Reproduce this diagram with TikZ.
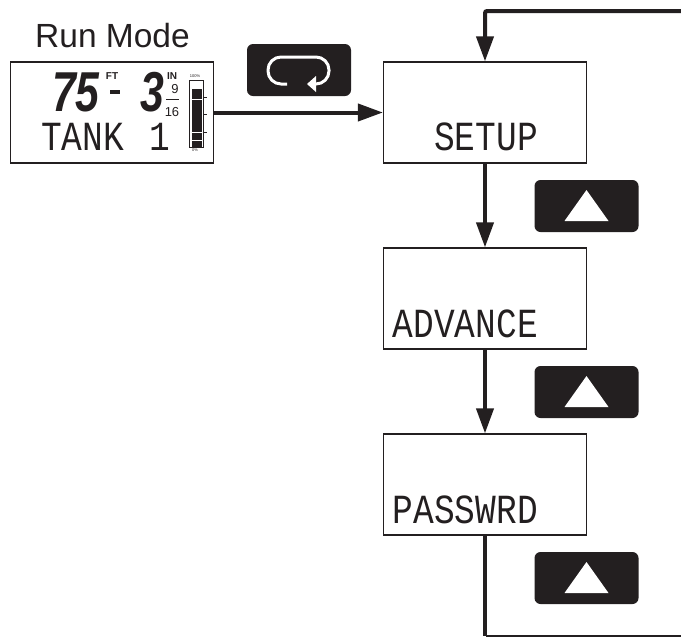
\documentclass[tikz,border=0pt]{standalone}
\usepackage{fontspec}
\usepackage{graphicx}
\usetikzlibrary{arrows.meta}
\setmainfont{Liberation Sans}
\newfontfamily\lcdfont{Liberation Mono}
\newcommand{\lcdtext}[1]{\scalebox{1}[1.2]{\fontsize{34.5}{36}\lcdfont #1}}
\newcommand{\bigdigit}[1]{\scalebox{.95}[1.25]{\fontsize{45}{48}\selectfont\bfseries\itshape #1}}
\definecolor{keyblack}{HTML}{231F20}
\begin{document}
\begin{tikzpicture}[x=1pt,y=-1pt,
            display/.style = {draw=keyblack,
                line width = 1.2pt,
                minimum width = 203pt,
                minimum height = 101pt,
                inner sep = 0pt,
                },
            key/.style = {fill=keyblack,
                rounded corners = 6pt,
                minimum width = 104pt,
                minimum height = 52pt,
                inner sep = 0pt,
                },
            lcd/.style = {text=keyblack,inner sep = 0pt},
            flow/.style = {draw=keyblack,
                line width = 4pt,
                -{Triangle[length=25pt,width=17pt]},
                },
            tiny/.style = {text=keyblack,inner sep = 0pt,font=\fontsize{4}{4}\selectfont},
            ]
        \useasboundingbox (0,0) rectangle (681,638);

        % Title
        \node[lcd,font=\fontsize{33.5}{36}\selectfont] (title) at (112.5,36) {Run Mode};

        % Displays
        \node[display] (run) at (112,112.5) {};
        \node[display] (setup) at (485,112.5) {};
        \node[display] (advance) at (485,298.5) {};
        \node[display] (passwrd) at (485,484.5) {};

        % Display texts
        \node[lcd,anchor=east] (setuptext) at (538,137) {\lcdtext{SETUP}};
        \node[lcd,anchor=east] (advancetext) at (538,323.5) {\lcdtext{ADVANCE}};
        \node[lcd,anchor=east] (passwrdtext) at (538,509.5) {\lcdtext{PASSWRD}};

        % Run mode readout
        \node[lcd] (feet) at (76,92.5) {\bigdigit{75}};
        \node[lcd] (inches) at (152,92.5) {\bigdigit{3}};
        \node[lcd] (dash) at (115,92) {\rule{10pt}{3.5pt}};
        \node[lcd,font=\fontsize{10}{10}\selectfont\bfseries] (ft) at (112,76) {FT};
        \node[lcd,font=\fontsize{10}{10}\selectfont\bfseries] (in) at (172,76) {IN};
        \node[lcd,font=\fontsize{13}{13}\selectfont] (numer) at (175,89) {9};
        \node[lcd,font=\fontsize{13}{13}\selectfont] (denom) at (172,112) {16};
        \draw[keyblack,line width=1pt] (166,99.5) -- (178.5,99.5);
        \node[lcd,anchor=west] (tank) at (41,137) {\lcdtext{TANK \hspace{5pt}1}};

        % Bar graph
        \node[draw=keyblack,line width=.8pt,minimum width=14pt,minimum height=67pt,inner sep=0pt] (bar) at (196,113.5) {};
        \fill[keyblack] (191.5,89) rectangle (202,147);
        \foreach \y in {99,132,140}
            \draw[white,line width=.7pt] (191.5,\y) -- (202,\y);
        \foreach \y in {97,114,132}
            \draw[keyblack,line width=.6pt] (203,\y) -- (206.5,\y);
        \node[tiny] (full) at (195,76) {100\%};
        \node[tiny] (empty) at (195,150.5) {0\%};

        % Keys
        \node[key] (loopkey) at (299,70) {};
        \foreach \name/\y in {upa/206,upb/392,upc/578} {
            \node[key] (\name) at (586.5,\y) {};
            \fill[white] ([shift={(-22,15)}]\name.center) -- ([shift={(22,15)}]\name.center)
                -- ([shift={(0,-16)}]\name.center) -- cycle;
        }

        % Loop symbol
        \draw[white,line width=3pt,rounded corners=13pt] (287,84) -- (268,84) -- (268,57) -- (329,57) -- (329,84) -- (313,84);
        \fill[white] (307,84) -- (316,76) -- (316,92) -- cycle;

        % Corners of the return line
        \coordinate (topright) at (681,11);
        \coordinate (topcorner) at (setup.north |- topright);
        \coordinate (bottomcorner) at (486,636);
        \coordinate (bottomright) at (681,636);

        % Flow
        \draw[flow] (run.east) -- (setup.west);
        \draw[flow] (setup.south) -- (advance.north);
        \draw[flow] (advance.south) -- (passwrd.north);
        \draw[flow,rounded corners=2pt] (topright) -- (topcorner) -- (setup.north);
        \draw[keyblack,line width=4pt] (passwrd.south) -- (passwrd.south |- bottomcorner);
        \draw[keyblack,line width=1.2pt] (bottomcorner) -- (bottomright);

        \end{tikzpicture}
\end{document}
